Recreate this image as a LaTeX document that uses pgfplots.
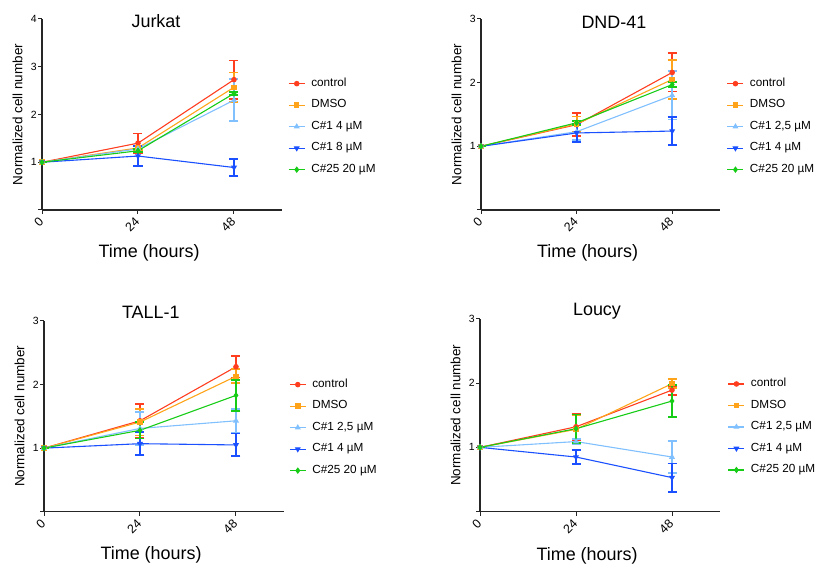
\documentclass[border=0pt]{standalone}
\usepackage{fontspec}
\setmainfont{Liberation Sans}
\usepackage{pgfplots}
\pgfplotsset{compat=1.18}
\definecolor{cctrl}{HTML}{FF3D1F}
\definecolor{cdmso}{HTML}{FFA31A}
\definecolor{clblue}{HTML}{80C0FF}
\definecolor{cblue}{HTML}{1A50FF}
\definecolor{cgreen}{HTML}{16CC16}
\definecolor{axcol}{HTML}{262626}

\pgfplotsset{
  legend image code/.code={
    \draw[mark repeat=2, mark phase=2, #1] plot coordinates {(0bp,0bp) (8bp,0bp) (16bp,0bp)};
    \path (22bp,0bp);
  },
  panel/.style={
    scale only axis, width=240bp, height=191bp,
    xmin=0, xmax=60, ymin=0,
    axis x line*=bottom, axis y line*=left,
    axis line style={line width=1.2bp, color=axcol},
    tick style={line width=1bp, color=axcol},
    tick align=outside, major tick length=4bp,
    xtick={0,24,48},
    xticklabel shift=5bp,
    xticklabel style={rotate=45, anchor=east, font=\fontsize{12.5}{14}\selectfont, inner sep=1bp},
    yticklabel style={font=\fontsize{10.5}{12}\selectfont, inner sep=1bp},
    /pgf/number format/assume math mode=true,
    xlabel={Time (hours)}, ylabel={Normalized cell number},
    xlabel style={font=\fontsize{18}{20}\selectfont, at={(axis description cs:0.446,-0.2513)}, anchor=base},
    ylabel style={font=\fontsize{13.5}{15}\selectfont, at={(axis description cs:-0.102,0.5)}, anchor=center},
    title style={font=\fontsize{18}{20}\selectfont, anchor=base, yshift=-6pt},
    legend cell align=left,
    legend style={draw=none, fill=none, font=\fontsize{11.8}{13}\selectfont, anchor=north west,
      inner sep=0pt, row sep=11bp, nodes={inner sep=0pt, text height=8bp, text depth=2.5bp}},
    error bars/error bar style={line width=1.8bp},
    error bars/error mark options={rotate=90, mark size=4.5bp, line width=1.8bp},
  },
  s1/.style={color=cctrl, mark=*, mark size=2.2bp, line width=1.1bp},
  s2/.style={color=cdmso, mark=square*, mark size=2.2bp, line width=1.1bp},
  s3/.style={color=clblue, mark=triangle*, mark size=2.4bp, line width=1.1bp},
  s4/.style={color=cblue, mark=triangle*, mark options={rotate=180}, mark size=2.4bp, line width=1.1bp},
  s5/.style={color=cgreen, mark=diamond*, mark size=2.4bp, line width=1.1bp},
  eb/.style={error bars/.cd, y dir=both, y explicit},
}

\begin{document}
\begin{tikzpicture}
\useasboundingbox (0,0) rectangle (817bp,564bp);

% Jurkat
\begin{axis}[panel, at={(42bp,354bp)}, anchor=south west, ymax=4,
  ytick={0,1,2,3,4}, yticklabels={,1,2,3,4},
  title={Jurkat}, title style={at={(axis description cs:0.475,0.953)}},
  legend style={at={(axis description cs:1.025,0.69)}}]
\addplot[s1, eb] coordinates {(0,1) +- (0,0) (24,1.40) +- (0,0.20) (48,2.73) +- (0,0.40)};
\addlegendentry{control}
\addplot[s2, eb] coordinates {(0,1) +- (0,0) (24,1.30) +- (0,0.05) (48,2.57) +- (0,0.31)};
\addlegendentry{DMSO}
\addplot[s3, eb] coordinates {(0,1) +- (0,0) (24,1.28) +- (0,0.07) (48,2.30) +- (0,0.44)};
\addlegendentry{C\#1 4 µM}
\addplot[s4, eb] coordinates {(0,1) +- (0,0) (24,1.13) +- (0,0.21) (48,0.89) +- (0,0.18)};
\addlegendentry{C\#1 8 µM}
\addplot[s5, eb] coordinates {(0,1) +- (0,0) (24,1.24) +- (0,0.03) (48,2.44) +- (0,0.03)};
\addlegendentry{C\#25 20 µM}
\end{axis}

% DND-41
\begin{axis}[panel, at={(481bp,354bp)}, anchor=south west, width=239bp, ymax=3,
  ytick={0,1,2,3}, yticklabels={,1,2,3},
  title={DND-41}, title style={at={(axis description cs:0.556,0.951)}},
  legend style={at={(axis description cs:1.028,0.69)}}]
\addplot[s1, eb] coordinates {(0,1) +- (0,0) (24,1.34) +- (0,0.18) (48,2.16) +- (0,0.30)};
\addlegendentry{control}
\addplot[s2, eb] coordinates {(0,1) +- (0,0) (24,1.35) +- (0,0.12) (48,2.05) +- (0,0.31)};
\addlegendentry{DMSO}
\addplot[s3, eb] coordinates {(0,1) +- (0,0) (24,1.23) +- (0,0.13) (48,1.80) +- (0,0.38)};
\addlegendentry{C\#1 2,5 µM}
\addplot[s4, eb] coordinates {(0,1) +- (0,0) (24,1.21) +- (0,0.14) (48,1.24) +- (0,0.22)};
\addlegendentry{C\#1 4 µM}
\addplot[s5, eb] coordinates {(0,1) +- (0,0) (24,1.37) +- (0,0.03) (48,1.97) +- (0,0.04)};
\addlegendentry{C\#25 20 µM}
\end{axis}

% TALL-1
\begin{axis}[panel, at={(44bp,52.3bp)}, anchor=south west, height=190.7bp, ymax=3,
  ytick={0,1,2,3}, yticklabels={,1,2,3},
  title={TALL-1}, title style={at={(axis description cs:0.445,1.014)}},
  legend style={at={(axis description cs:1.021,0.695)}}]
\addplot[s1, eb] coordinates {(0,1) +- (0,0) (24,1.43) +- (0,0.27) (48,2.28) +- (0,0.17)};
\addlegendentry{control}
\addplot[s2, eb] coordinates {(0,1) +- (0,0) (24,1.41) +- (0,0.21) (48,2.13) +- (0,0.11)};
\addlegendentry{DMSO}
\addplot[s3, eb] coordinates {(0,1) +- (0,0) (24,1.31) +- (0,0.26) (48,1.43) +- (0,0.19)};
\addlegendentry{C\#1 2,5 µM}
\addplot[s4, eb] coordinates {(0,1) +- (0,0) (24,1.07) +- (0,0.18) (48,1.05) +- (0,0.18)};
\addlegendentry{C\#1 4 µM}
\addplot[s5, eb] coordinates {(0,1) +- (0,0) (24,1.28) +- (0,0.13) (48,1.83) +- (0,0.24)};
\addlegendentry{C\#25 20 µM}
\end{axis}

% Loucy
\begin{axis}[panel, at={(480bp,52.3bp)}, anchor=south west, height=193bp, ymax=3,
  ytick={0,1,2,3}, yticklabels={,1,2,3},
  title={Loucy}, title style={at={(axis description cs:0.4875,1.014)}},
  legend style={at={(axis description cs:1.032,0.69)}}]
\addplot[s1, eb] coordinates {(0,1) +- (0,0) (24,1.32) +- (0,0.20) (48,1.89) +- (0,0.07)};
\addlegendentry{control}
\addplot[s2, eb] coordinates {(0,1) +- (0,0) (24,1.28) +- (0,0.22) (48,1.99) +- (0,0.07)};
\addlegendentry{DMSO}
\addplot[s3, eb] coordinates {(0,1) +- (0,0) (24,1.09) +- (0,0.04) (48,0.85) +- (0,0.25)};
\addlegendentry{C\#1 2,5 µM}
\addplot[s4, eb] coordinates {(0,1) +- (0,0) (24,0.85) +- (0,0.11) (48,0.53) +- (0,0.22)};
\addlegendentry{C\#1 4 µM}
\addplot[s5, eb] coordinates {(0,1) +- (0,0) (24,1.29) +- (0,0.22) (48,1.72) +- (0,0.25)};
\addlegendentry{C\#25 20 µM}
\end{axis}
\end{tikzpicture}
\end{document}
